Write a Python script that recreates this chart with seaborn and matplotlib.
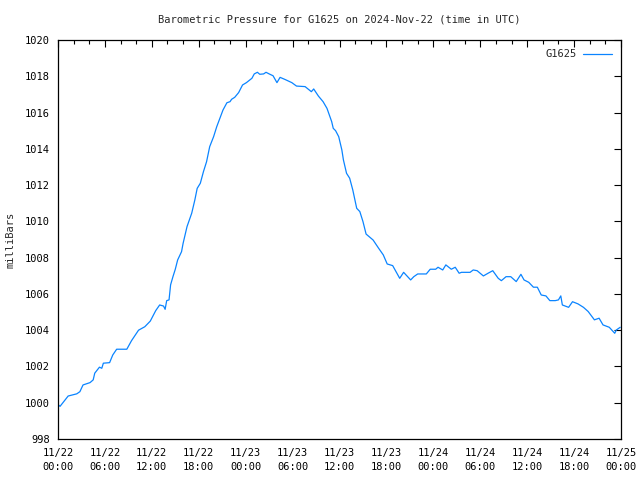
import matplotlib
matplotlib.use("Agg")
import matplotlib.pyplot as plt
import matplotlib.dates as mdates
import seaborn as sns
import pandas as pd
import numpy as np

# hours since 2024-11-22 00:00 UTC and pressure (mbar)
hours = [0.0, 0.26, 1.3, 2.4, 2.8, 3.2, 4.1, 4.5, 4.7, 5.3, 5.6, 5.8, 6.6, 7.0, 7.5, 8.8,
         9.4, 10.3, 11.1, 11.8, 12.5, 13.0, 13.5, 13.7, 13.9, 14.2, 14.4, 14.7, 15.0, 15.3,
         15.8, 16.0, 16.5, 17.1, 17.5, 17.8, 18.2, 18.6, 19.0, 19.4, 19.9, 20.3, 20.7, 21.1,
         21.6, 22.0, 22.2, 22.6, 23.1, 23.6, 24.1, 24.8, 25.1, 25.5, 25.8, 26.3, 26.6, 27.1,
         27.5, 28.0, 28.4, 29.0, 29.9, 30.5, 31.6, 32.4, 32.7, 33.3, 33.9, 34.4, 35.0, 35.2,
         35.5, 35.9, 36.3, 36.5, 36.9, 37.3, 37.7, 38.2, 38.6, 39.0, 39.4, 40.3, 41.0, 41.6,
         42.1, 42.8, 43.3, 43.7, 44.2, 45.1, 45.5, 46.0, 47.1, 47.6, 48.3, 48.6, 49.2, 49.6,
         50.3, 50.8, 51.3, 51.6, 52.7, 53.1, 53.6, 54.4, 55.0, 55.6, 56.3, 56.7, 57.3, 57.9,
         58.6, 59.2, 59.6, 60.2, 60.8, 61.3, 61.8, 62.4, 62.9, 63.6, 64.0, 64.3, 64.5, 65.3,
         65.8, 66.5, 67.2, 67.8, 68.6, 69.2, 69.7, 70.5, 71.2, 71.4, 71.9]
pressure = [999.9, 999.8, 1000.37, 1000.49, 1000.61, 1000.98, 1001.11, 1001.26, 1001.63, 1001.96,
            1001.9, 1002.18, 1002.21, 1002.63, 1002.95, 1002.95, 1003.42, 1004.0, 1004.19, 1004.5,
            1005.08, 1005.39, 1005.33, 1005.15, 1005.63, 1005.67, 1006.5, 1006.95, 1007.36, 1007.87,
            1008.33, 1008.79, 1009.71, 1010.45, 1011.18, 1011.82, 1012.1, 1012.74, 1013.29, 1014.12,
            1014.67, 1015.22, 1015.68, 1016.14, 1016.54, 1016.6, 1016.73, 1016.84, 1017.1, 1017.52,
            1017.65, 1017.89, 1018.13, 1018.22, 1018.11, 1018.13, 1018.22, 1018.11, 1018.03, 1017.65,
            1017.94, 1017.83, 1017.65, 1017.46, 1017.43, 1017.15, 1017.3, 1016.91, 1016.6, 1016.23,
            1015.5, 1015.13, 1015.0, 1014.67, 1013.94, 1013.39, 1012.65, 1012.38, 1011.73, 1010.72,
            1010.54, 1009.99, 1009.3, 1008.97, 1008.52, 1008.15, 1007.65, 1007.56, 1007.17, 1006.86,
            1007.19, 1006.77, 1006.95, 1007.1, 1007.1, 1007.36, 1007.36, 1007.47, 1007.32, 1007.6,
            1007.36, 1007.47, 1007.14, 1007.19, 1007.19, 1007.32, 1007.28, 1006.99, 1007.14, 1007.28,
            1006.86, 1006.73, 1006.95, 1006.95, 1006.68, 1007.08, 1006.77, 1006.64, 1006.37, 1006.37,
            1005.94, 1005.89, 1005.63, 1005.63, 1005.67, 1005.89, 1005.39, 1005.26, 1005.57, 1005.45,
            1005.26, 1005.03, 1004.57, 1004.66, 1004.29, 1004.16, 1003.83, 1004.01, 1004.16]

start = pd.Timestamp("2024-11-22 00:00")
df = pd.DataFrame({"time": [start + pd.Timedelta(hours=h) for h in hours],
                   "pressure": pressure, "station": "G1625"})

sns.set_style("white")
plt.rcParams["font.family"] = ["DejaVu Sans Mono"]
plt.rcParams["font.size"] = 7.5

fig = plt.figure(figsize=(6.4, 4.8), dpi=100)
ax = fig.add_axes([58/640, 41/480, 563/640, 399/480])
sns.lineplot(data=df, x="time", y="pressure", hue="station", palette=["#0a84ff"],
             linewidth=0.9, ax=ax)

ax.set_xlim(start, start + pd.Timedelta(hours=72))
ax.set_ylim(998, 1020)
ax.set_yticks(np.arange(998, 1021, 2))
ax.xaxis.set_major_locator(mdates.HourLocator(byhour=[0, 6, 12, 18]))
ax.xaxis.set_minor_locator(mdates.HourLocator(interval=2))
ax.xaxis.set_major_formatter(mdates.DateFormatter("%m/%d\n%H:%M"))
ax.tick_params(which="both", direction="in", top=True, right=True, colors="black",
               labelsize=7.5)
ax.tick_params(which="major", length=5, width=0.8)
ax.tick_params(which="minor", length=3, width=0.8)
ax.tick_params(axis="x", which="major", pad=6.5)
ax.tick_params(axis="y", which="major", pad=6)
for lbl in ax.get_xticklabels():
    lbl.set_linespacing(1.45)
for s in ax.spines.values():
    s.set_color("black")
    s.set_linewidth(0.9)
ax.set_xlabel("")
ax.set_ylabel("milliBars", fontsize=7.5)
ax.yaxis.set_label_coords(-0.075, 0.5)
ax.set_title("Barometric Pressure for G1625 on 2024-Nov-22 (time in UTC)", fontsize=7.5, pad=12.5)
ax.legend(loc="upper right", frameon=False, markerfirst=False, title=None,
          handlelength=2.7, handletextpad=0.6, fontsize=7.5, borderaxespad=0.5)

fig.savefig("out.png", dpi=100)
